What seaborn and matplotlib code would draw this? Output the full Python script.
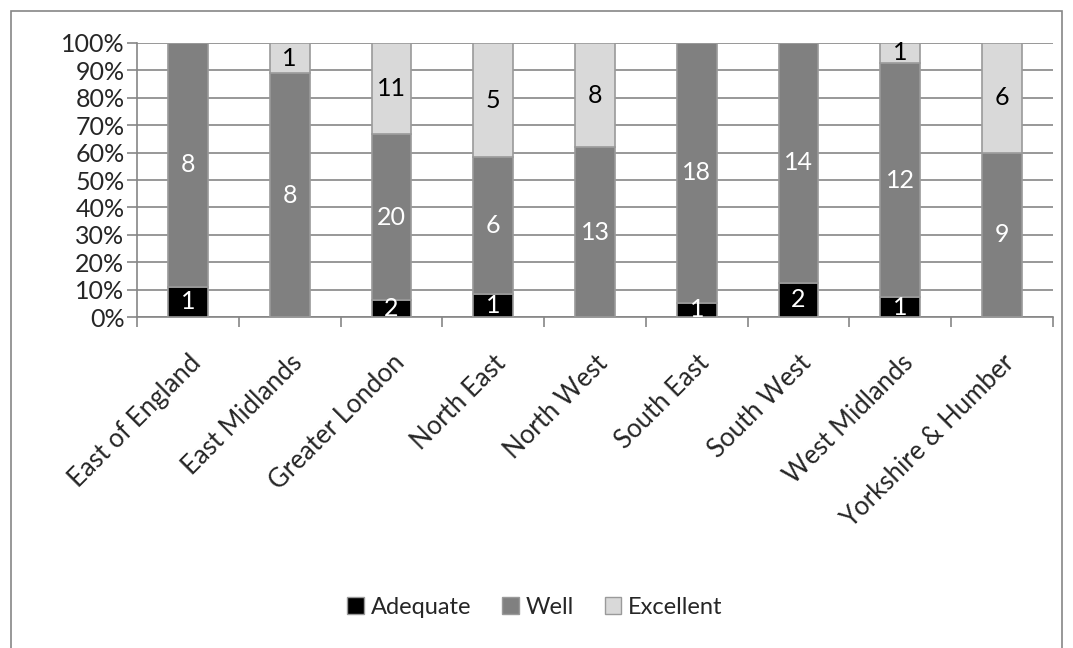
import numpy as np
import pandas as pd
import matplotlib
matplotlib.use("Agg")
import matplotlib.pyplot as plt
import seaborn as sns
from matplotlib.patches import Rectangle, Patch

regions = ["East of England", "East Midlands", "Greater London", "North East",
           "North West", "South East", "South West", "West Midlands",
           "Yorkshire & Humber"]
adequate = [1, 0, 2, 1, 0, 1, 2, 1, 0]
well = [8, 8, 20, 6, 13, 18, 14, 12, 9]
excellent = [0, 1, 11, 5, 8, 0, 0, 1, 6]

series = ["Adequate", "Well", "Excellent"]
colors = {"Adequate": "#000000", "Well": "#808080", "Excellent": "#d9d9d9"}
text_colors = {"Adequate": "white", "Well": "white", "Excellent": "black"}

df = pd.DataFrame({"Region": regions, "Adequate": adequate,
                   "Well": well, "Excellent": excellent})
total = df[series].sum(axis=1)
pct = df[series].div(total, axis=0)

sns.set_style("white")
plt.rcParams["font.family"] = ["Lato", "DejaVu Sans"]

fig = plt.figure(figsize=(10.73, 6.48), dpi=100)
ax = fig.add_axes([137 / 1073, 1 - 317 / 648, (1053 - 137) / 1073, (317 - 43) / 648])

# frame around whole chart
fig.patches.append(Rectangle((11 / 1073, -0.01), 1 - 22 / 1073, 1 - 11 / 648 + 0.01,
                             transform=fig.transFigure, fill=False,
                             edgecolor="#868686", linewidth=1.2))

bottom = np.zeros(len(regions))
for s in series:
    sns.barplot(x=df["Region"], y=pct[s], bottom=bottom, color=colors[s],
                edgecolor="#9a9a9a", linewidth=1.2, width=0.39, ax=ax,
                zorder=3, saturation=1)
    for i, (v, p) in enumerate(zip(df[s], pct[s])):
        if v > 0:
            ax.text(i, bottom[i] + p / 2, str(v), ha="center", va="center",
                    fontsize=18, color=text_colors[s], zorder=4)
    bottom += pct[s].values

ax.set_ylim(0, 1)
ax.set_xlim(-0.5, len(regions) - 0.5)
ax.set_yticks(np.arange(0, 1.01, 0.1))
ax.set_yticklabels([f"{int(round(t * 100))}%" for t in np.arange(0, 1.01, 0.1)],
                   fontsize=18)
ax.yaxis.grid(True, color="#868686", linewidth=1.2, zorder=0)
ax.set_axisbelow(True)
ax.tick_params(axis="y", length=7, color="#868686", width=1.2, pad=2, left=True)

ax.set_xticks(range(len(regions)))
ax.set_xticklabels(regions, rotation=45, ha="right", rotation_mode="anchor",
                   fontsize=18.5)
ax.set_xticks(np.arange(-0.5, len(regions), 1), minor=True)
ax.tick_params(axis="x", which="major", length=0, pad=24)
ax.tick_params(axis="x", which="minor", length=7, color="#868686", width=1.2,
               bottom=True)
ax.set_xlabel("")
ax.set_ylabel("")

for side in ["top", "right"]:
    ax.spines[side].set_visible(False)
for side in ["left", "bottom"]:
    ax.spines[side].set_color("#868686")
    ax.spines[side].set_linewidth(1.2)

handles = [Patch(facecolor=colors[s], edgecolor="#9a9a9a", label=s) for s in series]
fig.legend(handles=handles, loc="center", bbox_to_anchor=(535 / 1073, 1 - 607 / 648),
           ncol=3, frameon=False, fontsize=17, handlelength=0.7, handleheight=0.7,
           handletextpad=0.3, columnspacing=1.3)

fig.savefig("out.png", dpi=100)
